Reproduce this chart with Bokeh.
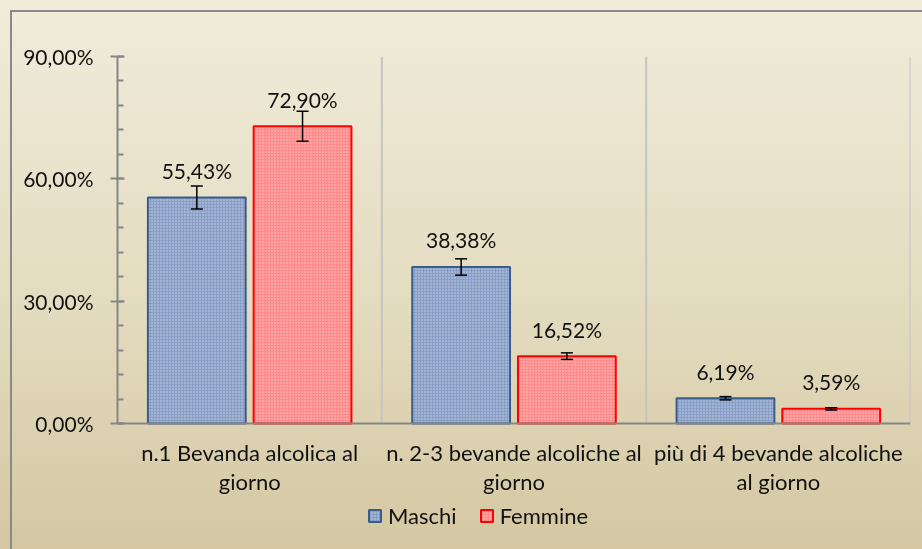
from bokeh.plotting import figure
from bokeh.models import (ColumnDataSource, FixedTicker, Whisker, TeeHead, Legend,
                          LegendItem, GlobalInlineStyleSheet)
from bokeh.core.properties import value
from bokeh.embed import file_html
from bokeh.resources import INLINE

categories = ["n.1 Bevanda alcolica al\ngiorno",
              "n. 2-3 bevande alcoliche al\ngiorno",
              "più di 4 bevande alcoliche\nal giorno"]
series = ["Maschi", "Femmine"]
maschi = [55.43, 38.38, 6.19]
femmine = [72.90, 16.52, 3.59]
maschi_err = [2.8, 2.0, 0.4]
femmine_err = [3.7, 0.8, 0.25]
y_ticks = [0, 30, 60, 90]
y_tick_labels = ["0,00%", "30,00%", "60,00%", "90,00%"]

FONT = "Lato"
FS = "21px"
FS2 = "22px"

# frame spans 56..549 px; 0 sits at 423 px, 90 at 56 px
px_per_unit = (423 - 56) / 90.0
y_start = -(549 - 423) / px_per_unit

p = figure(width=922, height=549, x_range=(0, 3), y_range=(y_start, 90),
           output_backend="svg", toolbar_location=None,
           x_axis_location="below",
           min_border_left=117, min_border_top=56, min_border_right=12,
           min_border_bottom=0)
p.background_fill_color = None
p.border_fill_color = None
p.outline_line_color = None

p.stylesheets = [GlobalInlineStyleSheet(css="""
html { min-height: 100%; background: linear-gradient(to bottom, #F0ECDB 0%, #E4DCC0 55%, #D4C7A2 100%) fixed; }
body::before { content: ""; position: fixed; left: 10px; top: 10px; width: 2000px; height: 2000px;
  border-top: 2px solid #898989; border-left: 2px solid #898989; pointer-events: none; }
""")]

def fmt(v):
    return ("%.2f%%" % v).replace(".", ",")

idx = list(range(len(categories)))

# category separators (vertical grid)
p.segment(x0=[i + 1 for i in idx], y0=[y_ticks[0]] * len(idx),
          x1=[i + 1 for i in idx], y1=[y_ticks[-1]] * len(idx),
          line_color="#C4C4C4", line_width=2)

specs = [
    (maschi, maschi_err, -0.2, "#8A9FC7", "#385D8A", series[0]),
    (femmine, femmine_err, 0.2, "#FF8A8A", "#FF0000", series[1]),
]
items = []
for vals, errs, off, fc, lc, name in specs:
    src = ColumnDataSource(dict(
        x=[i + 0.5 + off for i in idx], top=vals,
        upper=[v + e for v, e in zip(vals, errs)],
        lower=[v - e for v, e in zip(vals, errs)],
        label=[fmt(v) for v in vals]))
    r = p.vbar(x="x", top="top", bottom=0, width=0.37, source=src,
               fill_color=fc, line_color=lc, line_width=2,
               hatch_pattern="dot", hatch_color="white", hatch_alpha=0.55,
               hatch_scale=3, hatch_weight=1)
    items.append(LegendItem(label=name, renderers=[r]))
    w = Whisker(base="x", upper="upper", lower="lower", source=src,
                line_color="black", line_width=1.5, level="overlay",
                upper_head=TeeHead(size=12, line_color="black", line_width=1.5),
                lower_head=TeeHead(size=12, line_color="black", line_width=1.5))
    p.add_layout(w)
    p.text(x="x", y="top", text="label", source=src, y_offset=-27,
           text_align="center", text_baseline="middle",
           text_font=value(FONT), text_font_size=FS, text_color="#111111")

# y axis
p.yaxis.bounds = (y_ticks[0], y_ticks[-1])
p.yaxis.ticker = FixedTicker(ticks=y_ticks, minor_ticks=list(range(0, 91, 6)))
p.yaxis.major_label_overrides = {t: l for t, l in zip(y_ticks, y_tick_labels)}
p.yaxis.axis_line_color = "#868686"
p.yaxis.axis_line_width = 2
p.yaxis.major_tick_line_color = "#868686"
p.yaxis.major_tick_line_width = 2
p.yaxis.major_tick_in = 7
p.yaxis.major_tick_out = 7
p.yaxis.minor_tick_line_color = "#868686"
p.yaxis.minor_tick_line_width = 2
p.yaxis.minor_tick_in = 6
p.yaxis.minor_tick_out = 0
p.yaxis.major_label_standoff = 17
p.yaxis.major_label_text_font = FONT
p.yaxis.major_label_text_font_size = FS
p.yaxis.major_label_text_color = "#111111"

# x axis sitting at y = 0 inside the frame
x_ticks = [i + 0.5 for i in idx]
p.xaxis.fixed_location = 0
p.xaxis.ticker = FixedTicker(ticks=x_ticks)
p.xaxis.major_label_overrides = {t: c for t, c in zip(x_ticks, categories)}
p.xaxis.axis_line_color = "#868686"
p.xaxis.axis_line_width = 2
p.xaxis.major_tick_line_color = None
p.xaxis.minor_tick_line_color = None
p.xaxis.major_label_standoff = 9
p.xaxis.major_label_text_font = FONT
p.xaxis.major_label_text_font_size = FS2
p.xaxis.major_label_text_color = "#111111"
p.xaxis.major_label_text_line_height = 1.1

p.xgrid.grid_line_color = None
p.ygrid.grid_line_color = None

legend = Legend(items=items, orientation="horizontal", location=(250, 20),
                glyph_width=15, glyph_height=15, label_standoff=6, spacing=22,
                label_text_font=FONT, label_text_font_size=FS2,
                label_text_color="#111111", background_fill_alpha=0,
                border_line_color=None, margin=0, padding=4)
p.add_layout(legend, "center")

open("out.html", "w").write(file_html(p, INLINE))
